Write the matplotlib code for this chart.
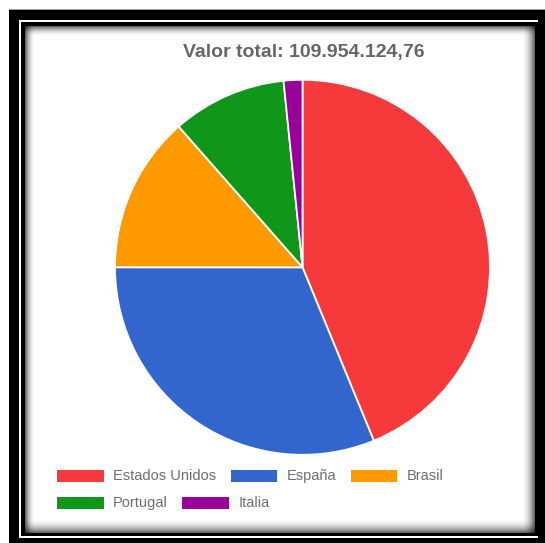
import numpy as np
import matplotlib
matplotlib.use("Agg")
import matplotlib.pyplot as plt
from matplotlib.patches import Rectangle

# ---- data -------------------------------------------------------------
paises = ["Estados Unidos", "España", "Brasil", "Portugal", "Italia"]
valores = [48_150_000.00, 34_320_000.00, 14_860_000.00, 10_850_000.00, 1_774_124.76]
colores = ["#f6393b", "#3366cc", "#ff9900", "#109618", "#990099"]

W, H = 545, 543
DPI = 100

plt.rcParams["font.family"] = ["Liberation Sans", "DejaVu Sans"]

fig = plt.figure(figsize=(W / DPI, H / DPI), dpi=DPI)
fig.patch.set_facecolor("white")


def fx(px):
    return px / W


def fy(py):
    return 1 - py / H


# ---- framed background with inset shadow ------------------------------
img = np.ones((H, W, 3))
img[10:, 9:] = 0.0
img[9, 9:] = 0.62
img[20:538, 19:538] = 1.0
img[22:536, 21:538] = 0.0
cx0, cy0, cx1, cy1 = 25, 26, 535, 533
img[cy0:cy1, cx0:cx1] = 1.0
yy, xx = np.mgrid[cy0:cy1, cx0:cx1]


def fade(d, width):
    t = np.clip(1 - d / width, 0, 1)
    return 1 - 0.6 * t ** 2


shade = (fade(xx - cx0, 10) * fade(yy - cy0, 10)
         * fade(cx1 - 1 - xx, 13) * fade(cy1 - 1 - yy, 14))
img[cy0:cy1, cx0:cx1] = shade[..., None]
bg = fig.figimage(img, xo=0, yo=0, origin="upper")
bg.set_zorder(-5)

# ---- pie ----------------------------------------------------------------
cx, cy, r = 302.5, 267.3, 187.5
ax = fig.add_axes([fx(cx - r), fy(cy + r), 2 * r / W, 2 * r / H])
ax.pie(valores, colors=colores, startangle=90, counterclock=False,
       wedgeprops=dict(edgecolor="white", linewidth=1.3))
ax.set_xlim(-1, 1)
ax.set_ylim(-1, 1)
ax.set_aspect("auto")
ax.axis("off")

# ---- title --------------------------------------------------------------
total = sum(valores)
txt = f"{total:,.2f}".replace(",", "X").replace(".", ",").replace("X", ".")
fig.text(fx(303.5), fy(52), f"Valor total: {txt}", ha="center", va="center",
         fontsize=14, fontweight="bold", color="#666666")

# ---- legend (flowing rows) -------------------------------------------------
renderer = fig.canvas.get_renderer()
box_w, box_h = 46.5, 12
x_start, x_limit = 57, 500
rows_y = [476, 503]
x, row = x_start, 0
for nombre, color in zip(paises, colores):
    t = fig.text(0, 0, nombre, fontsize=10.5, color="#6e6e6e",
                 ha="left", va="center")
    tw = t.get_window_extent(renderer).width
    needed = box_w + 9.5 + tw
    if x + needed > x_limit and x > x_start:
        row += 1
        x = x_start
    yc = rows_y[row]
    fig.add_artist(Rectangle((fx(x), fy(yc + box_h / 2)), box_w / W, box_h / H,
                             transform=fig.transFigure, facecolor=color,
                             edgecolor="none"))
    t.set_position((fx(x + box_w + 9.5), fy(yc)))
    x += needed + 14.5

fig.savefig("out.png", dpi=DPI)
